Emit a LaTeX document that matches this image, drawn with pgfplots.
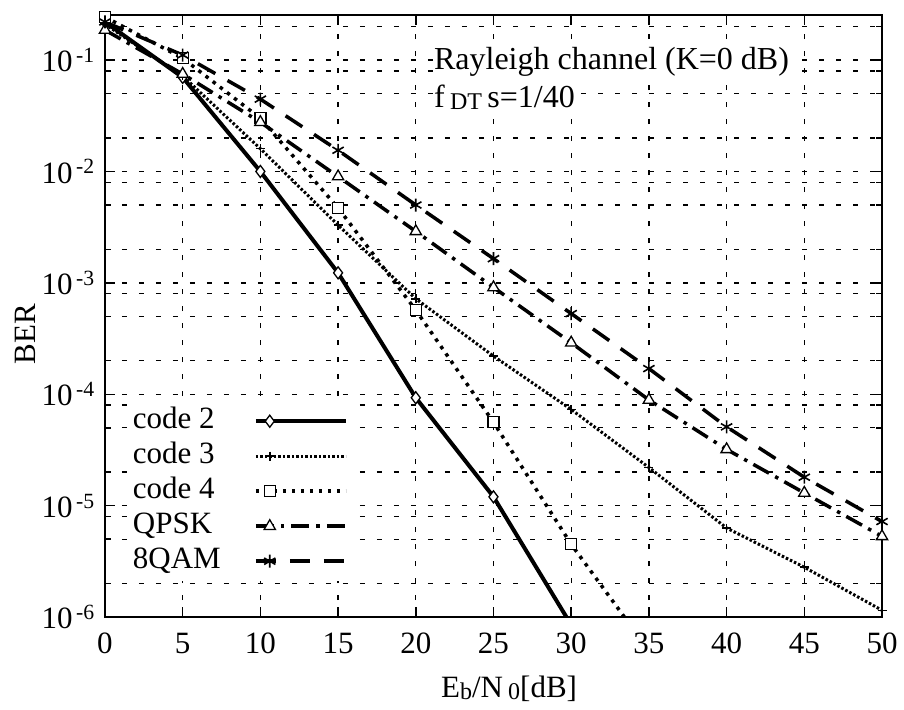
\documentclass[border=0pt]{standalone}
\usepackage{fontspec}
\setmainfont{Liberation Serif}
\usepackage{pgfplots}
\pgfplotsset{compat=1.18}
\newcommand{\lowsub}[1]{\raisebox{-2pt}{\fontsize{24}{24}\selectfont #1}}
\begin{document}
\fontsize{30}{36}\selectfont
\begin{tikzpicture}
\begin{axis}[
  scale only axis, width=777pt, height=602pt,
  ymode=log, log basis y=10,
  xmin=0, xmax=50, ymin=1e-6, ymax=0.254,
  xtick={0,5,...,50},
  ytick={1e-6,1e-5,1e-4,1e-3,1e-2,1e-1},
  yticklabels={10\textsuperscript{\,-6},10\textsuperscript{\,-5},10\textsuperscript{\,-4},10\textsuperscript{\,-3},10\textsuperscript{\,-2},10\textsuperscript{\,-1}},
  minor ytick={2e-6,5e-6,8e-6,2e-5,5e-5,8e-5,2e-4,5e-4,8e-4,2e-3,5e-3,8e-3,2e-2,5e-2,8e-2,2e-1},
  grid=both,
  major grid style={black, line width=1.3pt, dash pattern=on 5pt off 12pt},
  minor grid style={black, line width=1.3pt, dash pattern=on 5pt off 12pt},
  axis line style={line width=2.5pt},
  tick style={black, line width=1.5pt},
  major tick length=10pt, minor tick length=6pt,
  /pgf/number format/assume math mode=true,
  ticklabel style={font=\fontsize{31}{36}\selectfont},
  xticklabel style={yshift=-6pt},
  label style={font=\fontsize{31}{36}\selectfont},
  xlabel={E\lowsub{b}/N\,\lowsub{0}[dB]},
  xlabel style={at={(axis description cs:0.52,-0.12)}, anchor=center},
  ylabel={BER},
  ylabel style={at={(axis description cs:-0.103,0.47)}, anchor=center},
  legend plot pos=right,
  legend cell align=left,
  legend image code/.code={
    \draw[#1, mark=none] (0pt,0pt) -- (90pt,0pt);
    \draw[#1, only marks] plot coordinates {(14pt,0pt)};
  },
  legend style={at={(axis description cs:0.028,0.358)}, anchor=north west,
    draw=none, fill=white, font=\fontsize{31}{34}\selectfont,
    nodes={text height=22pt, text depth=7pt, inner sep=3pt},
    /tikz/every odd column/.append style={column sep=30pt}},
]
% code 2
\addplot[black, line width=4pt, mark=diamond*, mark size=6pt,
  mark options={solid, fill=white, line width=1.3pt}] coordinates {
  (0,0.22) (5,0.07) (10,0.01) (15,0.00123) (20,9.3e-5) (25,1.2e-5) (30,8.5e-7)};
% code 3
\addplot[black, line width=3pt, dash pattern=on 2.5pt off 2pt, mark=+, mark size=4.5pt,
  mark options={solid, line width=1.5pt}] coordinates {
  (0,0.21) (5,0.072) (10,0.016) (15,0.0033) (20,7.2e-4) (25,2.2e-4) (30,7.3e-5)
  (35,2.2e-5) (40,6.3e-6) (45,2.8e-6) (50,1.15e-6)};
% code 4
\addplot[black, line width=3.5pt, dash pattern=on 3.5pt off 5.5pt, mark=square*, mark size=5.5pt,
  mark options={solid, fill=white, line width=1.3pt}] coordinates {
  (0,0.244) (5,0.104) (10,0.030) (15,0.0047) (20,5.7e-4) (25,5.6e-5) (30,4.5e-6) (35,5e-7)};
% QPSK
\addplot[black, line width=3.5pt, dash pattern=on 18pt off 7pt on 3.5pt off 7pt, mark=triangle*, mark size=6.5pt,
  mark options={solid, fill=white, line width=1.3pt}] coordinates {
  (0,0.186) (5,0.075) (10,0.0277) (15,0.009) (20,0.0029) (25,9.1e-4) (30,2.9e-4)
  (35,8.9e-5) (40,3.2e-5) (45,1.3e-5) (50,5.3e-6)};
% 8QAM
\addplot[black, line width=3.5pt, dash pattern=on 20pt off 14pt, mark=asterisk, mark size=6.5pt,
  mark options={solid, line width=1.6pt}] coordinates {
  (0,0.22) (5,0.111) (10,0.0446) (15,0.0155) (20,0.005) (25,0.00165) (30,5.3e-4)
  (35,1.7e-4) (40,5.1e-5) (45,1.8e-5) (50,7.2e-6)};
\legend{code 2, code 3, code 4, QPSK, 8QAM}
\node[anchor=west, fill=white, inner sep=1pt, font=\fontsize{32}{36}\selectfont] at (axis cs:21.1,0.096) {Rayleigh channel (K=0 dB)};
\node[anchor=west, fill=white, inner sep=1pt, font=\fontsize{32}{36}\selectfont] at (axis cs:21.1,0.0464) {f\,\lowsub{DT}\,s=1/40};
\coordinate (bbl) at (axis description cs:-0.1351,-0.1528);
\coordinate (btr) at (axis description cs:1.0283,1.0249);
\end{axis}
\pgfresetboundingbox
\path (bbl) rectangle (btr);
\end{tikzpicture}
\end{document}
